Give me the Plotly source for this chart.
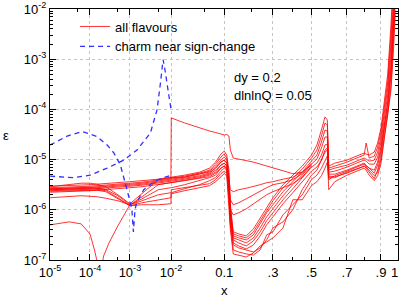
import numpy as np
import plotly.graph_objects as go

# ---------------- data ----------------
# common x grid for the red curves
x_grid = [1e-5, 3e-5, 6e-5, 1e-4, 1.5e-4, 2.5e-4, 5e-4, 1e-3, 2e-3, 5e-3,
          0.0099, 0.0101, 0.02, 0.04, 0.06, 0.075, 0.09, 0.1, 0.108, 0.115,
          0.12, 0.13, 0.15, 0.18, 0.21, 0.24, 0.27, 0.3, 0.35, 0.4,
          0.45, 0.5, 0.53, 0.555, 0.575, 0.588, 0.596, 0.63, 0.7, 0.77,
          0.8, 0.812, 0.83, 0.86, 0.88, 0.9, 0.92, 0.94, 0.96, 0.975, 0.985]

# log10(epsilon) of the dense band of curves (full x range)
band1_log = [-5.53, -5.52, -5.51, -5.50, -5.49, -5.48, -5.46, -5.44, -5.42, -5.39,
             -5.35, -5.35, -5.31, -5.25, -5.17, -5.05, -4.89, -4.83, -4.91, -5.21,
             -5.90, -6.44, -6.48, -6.52, -6.38, -6.16, -5.94, -5.76, -5.50, -5.31,
             -5.13, -4.91, -4.71, -4.41, -4.15, -4.21, -5.13, -5.07, -5.01, -4.91,
             -4.87, -4.89, -4.91, -4.85, -4.67, -4.37, -3.81, -3.31, -2.31, -1.52, -0.62]
band2_log = [-5.56, -5.55, -5.54, -5.53, -5.52, -5.51, -5.49, -5.47, -5.45, -5.41,
             -5.37, -5.37, -5.33, -5.27, -5.21, -5.09, -4.95, -4.89, -4.97, -5.31,
             -5.96, -6.48, -6.52, -6.56, -6.44, -6.22, -6.00, -5.82, -5.56, -5.37,
             -5.19, -4.97, -4.81, -4.53, -4.27, -4.31, -5.17, -5.13, -5.05, -4.95,
             -4.91, -4.67, -4.97, -4.93, -4.75, -4.45, -3.93, -3.45, -2.51, -1.71, -0.92]
band3_log = [-5.58, -5.57, -5.56, -5.55, -5.54, -5.53, -5.51, -5.49, -5.47, -5.43,
             -5.39, -5.39, -5.35, -5.29, -5.23, -5.13, -5.01, -4.95, -5.01, -5.40,
             -6.04, -6.52, -6.56, -6.60, -6.50, -6.28, -6.06, -5.90, -5.64, -5.44,
             -5.25, -5.03, -4.91, -4.65, -4.41, -4.43, -5.21, -5.17, -5.11, -5.01,
             -4.97, -4.99, -5.03, -5.01, -4.85, -4.55, -4.05, -3.57, -2.71, -1.91, -1.22]
band4_log = [-5.60, -5.59, -5.58, -5.57, -5.56, -5.55, -5.53, -5.51, -5.49, -5.45,
             -5.41, -5.41, -5.37, -5.32, -5.27, -5.17, -5.05, -5.01, -5.07, -5.50,
             -6.12, -6.56, -6.60, -6.66, -6.56, -6.36, -6.14, -5.98, -5.72, -5.50,
             -5.31, -5.09, -4.99, -4.77, -4.55, -4.55, -5.25, -5.23, -5.15, -5.05,
             -5.01, -5.03, -5.09, -5.09, -4.95, -4.65, -4.17, -3.71, -2.91, -2.05, -1.42]
band5_log = [-5.62, -5.61, -5.60, -5.59, -5.58, -5.57, -5.55, -5.53, -5.51, -5.47,
             -5.43, -5.43, -5.39, -5.34, -5.29, -5.21, -5.11, -5.07, -5.13, -5.60,
             -6.20, -6.60, -6.66, -6.72, -6.62, -6.44, -6.22, -6.06, -5.80, -5.58,
             -5.37, -5.15, -5.07, -4.91, -4.71, -4.69, -5.29, -5.29, -5.21, -5.11,
             -5.07, -5.11, -5.17, -5.21, -5.05, -4.75, -4.29, -3.85, -3.11, -2.21, -1.62]
band6_log = [-5.65, -5.64, -5.63, -5.62, -5.61, -5.60, -5.58, -5.56, -5.54, -5.50,
             -5.46, -5.46, -5.42, -5.38, -5.34, -5.27, -5.17, -5.13, -5.19, -5.70,
             -6.28, -6.66, -6.72, -6.78, -6.70, -6.52, -6.30, -6.14, -5.88, -5.66,
             -5.44, -5.23, -5.15, -5.01, -4.85, -4.81, -5.33, -5.34, -5.27, -5.17,
             -5.13, -5.17, -5.25, -5.38, -5.21, -4.91, -4.41, -4.01, -3.31, -2.41, -1.81]

# curves that leave the band (fan / arcs / wiggles)
fan1_log = [-5.54, -5.50, -5.47, -5.47, -5.49, -5.54, -5.70, -5.88, -5.68, -5.40,
            -5.36, -5.36, -5.35, -5.28, -5.25, -5.17, -5.05, -5.01, -5.07, -5.40,
            -5.60, -5.64, -5.60, -5.57, -5.54, -5.50, -5.46, -5.44, -5.39, -5.35,
            -5.25, -5.11]
fan2_log = [-5.76, -5.73, -5.72, -5.73, -5.74, -5.77, -5.82, -5.90, -5.74, -5.50,
            -5.46, -5.46, -5.42, -5.36, -5.31, -5.25, -5.11, -5.07, -5.13, -5.50,
            -5.80, -5.90, -5.86, -5.78, -5.70, -5.62, -5.56, -5.50, -5.46, -5.40,
            -5.28, -5.07]
dip_x = [1e-5, 3e-5, 6e-5, 1e-4, 1.3e-4, 1.6e-4, 1.75e-4, 1.9e-4, 2.2e-4, 3e-4,
         5e-4, 1e-3, 2e-3, 5e-3, 0.0099, 0.0101, 0.02, 0.04, 0.06, 0.075,
         0.09, 0.1, 0.108, 0.115, 0.12, 0.13, 0.15, 0.18, 0.21, 0.24,
         0.27, 0.3, 0.35, 0.4, 0.45, 0.5]
dip_log = [-6.30, -6.24, -6.28, -6.48, -6.80, -7.12, -7.80, -7.20, -6.92, -6.66,
           -6.32, -5.90, -5.78, -5.60, -5.56, -5.56, -5.50, -5.42, -5.36, -5.31,
           -5.17, -5.13, -5.17, -5.60, -6.00, -6.10, -6.06, -5.98, -5.88, -5.78,
           -5.70, -5.64, -5.56, -5.48, -5.35, -5.13]
fan4_log = [-5.58, -5.57, -5.56, -5.56, -5.57, -5.60, -5.72, -5.90, -5.82, -5.70,
            -5.66, -5.66, -5.58, -5.50, -5.42, -5.36, -5.23, -5.17, -5.21, -5.70,
            -6.20, -6.70, -6.76, -6.80, -6.84, -6.76, -6.60, -6.36, -6.24, -6.00,
            -5.60, -5.31, -5.21, -5.01, -4.81, -4.77, -5.36, -5.36, -5.25, -5.17,
            -5.13, -5.15, -5.21, -5.32, -5.25, -5.01, -4.53, -4.11, -3.51, -2.61, -2.01]
fan5_log = [-5.60, -5.59, -5.58, -5.58, -5.59, -5.62, -5.76, -5.92, -5.86, -5.80,
            -5.76, -5.60, -5.56, -5.52, -5.48, -5.40, -5.28, -5.23, -5.27, -5.80,
            -6.30, -6.80, -6.84, -6.88, -6.90, -6.80, -6.50, -6.44, -6.10, -5.90,
            -5.70, -5.40, -5.31, -5.17, -5.01, -4.93, -5.60, -5.44, -5.31, -5.21,
            -5.17, -5.21, -5.31, -5.42, -5.32, -5.07, -4.61, -4.17, -3.61, -2.81, -2.11]
fan6_log = [-5.63, -5.62, -5.61, -5.60, -5.61, -5.64, -5.78, -5.92, -5.90, -5.90,
            -5.88, -5.68, -5.62, -5.56, -5.52, -5.44, -5.35, -5.28, -5.32, -5.90,
            -6.40, -6.88, -6.90, -6.94, -6.86, -6.72, -6.64, -6.56, -6.36, -5.80,
            -5.80, -5.52, -5.44, -5.32, -5.17, -5.05, -5.40, -5.32, -5.23, -5.13,
            -5.09, -5.13, -5.17, -5.27, -5.11, -4.81, -4.37, -3.89, -3.21, -2.37, -1.71]
# high curve starting with a jump at x = 0.01
high_log = [-5.39, -4.17, -4.27, -4.37, -4.43, -4.46, -4.49, -4.51, -4.50, -4.53,
            -4.81, -4.97, -4.99, -5.02, -5.05, -5.09, -5.13, -5.17, -5.22, -5.28, -5.25]

# blue dashed curves: charm near sign-change
charm_a_x = [1e-5, 2.7e-5, 6.3e-5, 1.5e-4, 2.7e-4, 4e-4, 5.8e-4, 7.8e-4, 9.4e-4,
             1.12e-3, 1.22e-3, 1.34e-3, 1.46e-3, 2.2e-3, 3.9e-3, 6.1e-3, 1e-2]
charm_a_log = [-4.71, -4.53, -4.44, -4.54, -4.71, -4.87, -5.11, -5.47, -5.74,
               -6.00, -6.44, -6.00, -5.86, -5.60, -5.44, -5.37, -5.31]
charm_b_x = [1e-5, 2e-5, 3.9e-5, 1e-4, 2.7e-4, 7e-4, 1.5e-3, 3.2e-3, 4.65e-3,
             5.6e-3, 6.5e-3, 7e-3, 8e-3, 1e-2]
charm_b_log = [-5.33, -5.35, -5.36, -5.31, -5.17, -5.01, -4.81, -4.47, -4.01,
               -3.48, -3.01, -3.15, -3.51, -4.01]

x_tick_vals = [1e-5, 1e-4, 1e-3, 1e-2, 0.1, 0.3, 0.5, 0.7, 0.9, 1.0]
x_tick_text = ["10<sup>-5</sup>", "10<sup>-4</sup>", "10<sup>-3</sup>", "10<sup>-2</sup>",
               "0.1", ".3", ".5", ".7", ".9", ""]
x_last_label = "1"
x_minor_vals = [5e-5, 5e-4, 5e-3, 0.05, 0.2, 0.4, 0.6, 0.8]
y_tick_vals = [1e-7, 1e-6, 1e-5, 1e-4, 1e-3, 1e-2]
y_tick_text = ["10<sup>-7</sup>", "10<sup>-6</sup>", "10<sup>-5</sup>",
               "10<sup>-4</sup>", "10<sup>-3</sup>", "10<sup>-2</sup>"]

# ---------------- axis transform: zeta = ln(1/x) + a(1-x) ----------------
A_PARAM = 8.58


def zeta(x):
    x = np.asarray(x, dtype=float)
    return -(np.log(1.0 / x) + A_PARAM * (1.0 - x))


def eps(lg):
    return 10.0 ** np.asarray(lg, dtype=float)


FONT = "Liberation Sans, Arial, Helvetica, sans-serif"
RED = "rgba(255,0,0,0.8)"
BLUE = "#3030ff"

fig = go.Figure()

red_curves = [
    (x_grid, band1_log), (x_grid, band2_log), (x_grid, band3_log),
    (x_grid, band4_log), (x_grid, band5_log), (x_grid, band6_log),
    (x_grid[:32], fan1_log), (x_grid[:32], fan2_log), (dip_x, dip_log),
    (x_grid, fan4_log), (x_grid, fan5_log), (x_grid, fan6_log),
    (x_grid[10:31], high_log),
]
for i, (xs, lg) in enumerate(red_curves):
    fig.add_trace(go.Scatter(
        x=zeta(xs), y=eps(lg), mode="lines",
        line=dict(color=RED, width=1.0),
        name="all flavours", showlegend=(i == 0), legendgroup="all",
        hoverinfo="skip"))

fig.add_trace(go.Scatter(
    x=zeta(charm_a_x), y=eps(charm_a_log), mode="lines",
    line=dict(color=BLUE, width=1.3, dash="5px,4px"),
    name="charm near sign-change", legendgroup="charm", hoverinfo="skip"))
fig.add_trace(go.Scatter(
    x=zeta(charm_b_x), y=eps(charm_b_log), mode="lines",
    line=dict(color=BLUE, width=1.3, dash="5px,4px"),
    name="charm near sign-change", showlegend=False, legendgroup="charm",
    hoverinfo="skip"))

axis_common = dict(
    ticks="inside", tickcolor="black", tickwidth=1,
    showline=True, linecolor="black", linewidth=1, mirror="ticks",
    showgrid=True, gridcolor="#c4c4c4", griddash="dot", gridwidth=1,
    zeroline=False, automargin=False, ticklabeloverflow="allow",
    tickfont=dict(family=FONT, size=13, color="black"),
)

fig.update_layout(
    width=399, height=298,
    margin=dict(l=50, r=1, t=9, b=38),
    paper_bgcolor="white", plot_bgcolor="white",
    font=dict(family=FONT, size=13, color="black"),
    xaxis=dict(range=[-20.1, 0.02], tickmode="array",
               tickvals=list(zeta(x_tick_vals)), ticktext=x_tick_text,
               ticklen=6,
               minor=dict(tickmode="array", tickvals=list(zeta(x_minor_vals)),
                          ticks="inside", ticklen=3, tickcolor="black",
                          showgrid=False),
               **axis_common),
    yaxis=dict(type="log", range=[-7, -2], tickmode="array",
               tickvals=y_tick_vals, ticktext=y_tick_text, ticklen=6,
               minor=dict(ticks="inside", ticklen=3, tickcolor="black",
                          dtick="D1", showgrid=False),
               **axis_common),
    showlegend=True,
    legend=dict(x=0.072, y=0.99, xanchor="left", yanchor="top",
                bgcolor="rgba(0,0,0,0)", font=dict(family=FONT, size=13),
                itemwidth=30, tracegroupgap=0),
    annotations=[
        dict(text="dy = 0.2", xref="paper", yref="paper", x=0.522, y=0.726,
             xanchor="left", yanchor="middle", showarrow=False,
             font=dict(family=FONT, size=13)),
        dict(text="dlnlnQ = 0.05", xref="paper", yref="paper", x=0.522, y=0.657,
             xanchor="left", yanchor="middle", showarrow=False,
             font=dict(family=FONT, size=13)),
        dict(text=x_last_label, xref="paper", yref="paper", x=1.0, y=-0.05,
             xanchor="right", yanchor="middle", showarrow=False,
             xshift=1, borderpad=0,
             font=dict(family=FONT, size=13)),
        dict(text="x", xref="paper", yref="paper", x=0.5, y=-0.12,
             xanchor="center", yanchor="middle", showarrow=False,
             font=dict(family=FONT, size=13)),
        dict(text="ε", xref="paper", yref="paper", x=-0.126, y=0.498,
             xanchor="center", yanchor="middle", showarrow=False,
             font=dict(family=FONT, size=13)),
    ],
)

fig.write_html(
    "out.html",
    config={"displayModeBar": False},
    post_script="document.body.style.margin='0';document.body.style.overflow='hidden';",
)
